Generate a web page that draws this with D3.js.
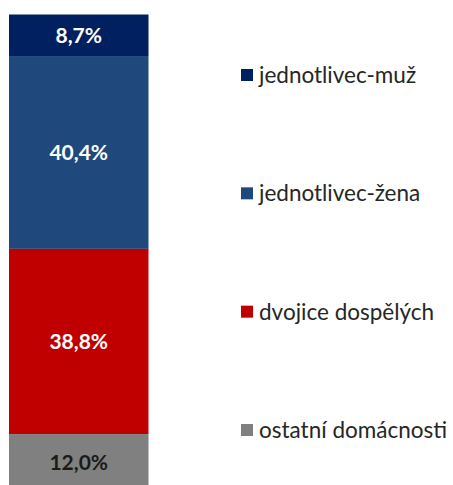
<!DOCTYPE html>
<html>
<head>
<meta charset="utf-8">
<script src="https://cdn.jsdelivr.net/npm/d3@7"></script>
<style>
  body { margin: 0; background: #fff; }
  svg text { font-family: Lato, "Open Sans", sans-serif; }
</style>
</head>
<body>
<div id="chart"></div>
<script>
// data (top of the stack first)
const categories = ["jednotlivec-muž", "jednotlivec-žena", "dvojice dospělých", "ostatní domácnosti"];
const values = [8.7, 40.4, 38.8, 12.0];
const colors = ["#002060", "#1F497D", "#C00000", "#808080"];
const labelColors = ["#fff", "#fff", "#fff", "#1a1a1a"];

const width = 453, height = 485;

const svg = d3.select("#chart").append("svg")
  .attr("width", width)
  .attr("height", height);

// stack from the top down
let acc = 0;
const segs = values.map((v, i) => {
  const s = { name: categories[i], value: v, y0: acc, y1: acc + v, i: i };
  acc += v;
  return s;
});

const y = d3.scaleLinear().domain([0, 100]).range([14.5, 491.8]);
const x = d3.scaleBand().domain(["bar"]).range([9, 148.5]).padding(0);

const g = svg.append("g");

g.selectAll("rect.seg")
  .data(segs)
  .enter().append("rect")
  .attr("class", "seg")
  .attr("x", x("bar"))
  .attr("width", x.bandwidth())
  .attr("y", d => y(d.y0))
  .attr("height", d => y(d.y1) - y(d.y0))
  .attr("fill", d => colors[d.i]);

g.selectAll("text.lbl")
  .data(segs)
  .enter().append("text")
  .attr("class", "lbl")
  .attr("x", x("bar") + x.bandwidth() / 2)
  .attr("y", d => (y(d.y0) + y(d.y1)) / 2)
  .attr("dy", "0.35em")
  .attr("text-anchor", "middle")
  .attr("font-size", 21)
  .attr("font-weight", "bold")
  .attr("fill", d => labelColors[d.i])
  .text(d => d.value.toFixed(1).replace(".", ",") + "%");

// legend
const ly = d3.scalePoint().domain(categories).range([75, 430]);

const leg = svg.selectAll("g.legend")
  .data(categories)
  .enter().append("g")
  .attr("class", "legend")
  .attr("transform", d => `translate(241, ${ly(d)})`);

leg.append("rect")
  .attr("x", 0)
  .attr("y", -6)
  .attr("width", 12)
  .attr("height", 12)
  .attr("fill", (d, i) => colors[i]);

leg.append("text")
  .attr("x", 18)
  .attr("dy", "0.35em")
  .attr("font-size", 22.5)
  .attr("fill", "#262626")
  .text(d => d);
</script>
</body>
</html>
